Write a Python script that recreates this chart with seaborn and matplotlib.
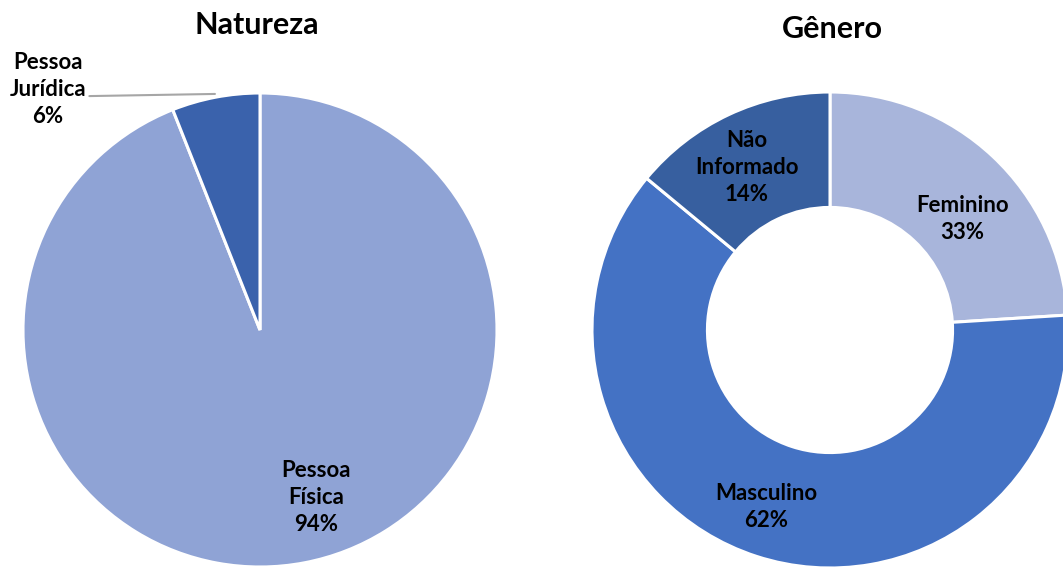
"""
Natureza / Gênero pie charts.
"""
import matplotlib
matplotlib.use("Agg")
import matplotlib.pyplot as plt
import seaborn as sns

# ---- Data ----
natureza_labels = ["Pessoa\nFísica", "Pessoa\nJurídica"]
natureza_values = [94, 6]
natureza_pct = ["94%", "6%"]

genero_labels = ["Feminino", "Masculino", "Não\nInformado"]
genero_values = [24, 62, 14]
genero_pct = ["33%", "62%", "14%"]

natureza_colors = ["#8FA3D5", "#3A62AC"]
genero_colors = ["#A8B5DB", "#4472C4", "#375F9F"]

sns.set_theme(style="white")
plt.rcParams["font.family"] = ["Lato", "DejaVu Sans"]

W, H = 1063, 567
fig = plt.figure(figsize=(W / 100, H / 100), dpi=100)


def make_ax(cx, cy, r):
    # axes placed in pixel coordinates, data radius = 1
    ax = fig.add_axes([(cx - r) / W, (H - cy - r) / H, 2 * r / W, 2 * r / H])
    ax.axis("off")
    return ax


def fix_limits(ax):
    ax.set_xlim(-1, 1)
    ax.set_ylim(-1, 1)
    ax.set_aspect("auto")


wedge_kw = {"edgecolor": "white", "linewidth": 2.2}
label_kw = {"ha": "center", "va": "center", "fontsize": 16,
            "fontweight": "bold", "color": "black", "linespacing": 1.35}

# ---- Natureza ----
ax1 = make_ax(260, 330, 237)
ax1.pie(natureza_values, colors=natureza_colors, startangle=90,
        counterclock=False, radius=1, wedgeprops=wedge_kw)
fix_limits(ax1)
ax1.text(0.236, -0.705, f"{natureza_labels[0]}\n{natureza_pct[0]}", **label_kw)
ax1.text(-0.895, 1.013, f"{natureza_labels[1]}\n{natureza_pct[1]}", clip_on=False, **label_kw)
ax1.plot([-0.72, -0.19], [0.987, 0.996], color="#A6A6A6", lw=1.5, clip_on=False)

# ---- Gênero ----
ax2 = make_ax(830, 330, 238)
ax2.pie(genero_values, colors=genero_colors, startangle=90,
        counterclock=False, radius=1,
        wedgeprops=dict(width=0.485, **wedge_kw))
fix_limits(ax2)
ax2.text(0.555, 0.466, f"{genero_labels[0]}\n{genero_pct[0]}", **label_kw)
ax2.text(-0.269, -0.744, f"{genero_labels[1]}\n{genero_pct[1]}", **label_kw)
ax2.text(-0.349, 0.681, f"{genero_labels[2]}\n{genero_pct[2]}", **label_kw)

# ---- Titles ----
fig.text(257 / W, 1 - 25 / H, "Natureza", ha="center", va="center",
         fontsize=22, fontweight="bold", color="black")
fig.text(832 / W, 1 - 29 / H, "Gênero", ha="center", va="center",
         fontsize=22, fontweight="bold", color="black")

plt.savefig("out.png", dpi=100)
plt.close()
